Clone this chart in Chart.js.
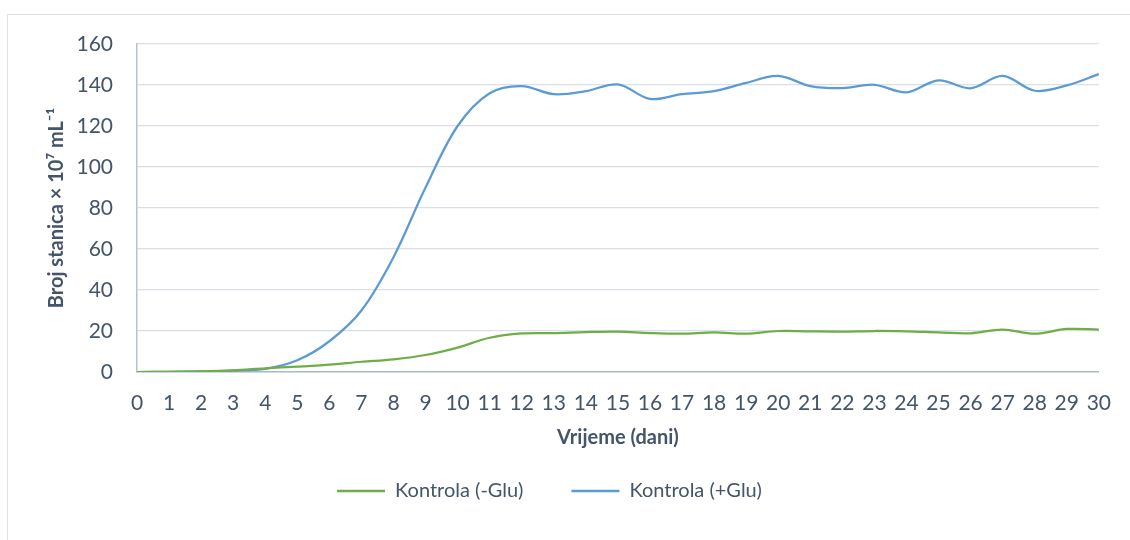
<!DOCTYPE html>
<html>
<head>
<meta charset="utf-8">
<script src="https://cdn.jsdelivr.net/npm/chart.js@4.4.1/dist/chart.umd.min.js"></script>
<style>
  html, body { margin: 0; padding: 0; background: #fff; }
  #wrap { position: relative; width: 1130px; height: 540px; overflow: hidden; }
  #frame { position: absolute; left: 7px; top: 14px; width: 1140px; height: 560px; border: 1.5px solid #dde2e9; box-sizing: border-box; }
  #c { position: absolute; left: 0; top: 0; }
</style>
</head>
<body>
<div id="wrap">
  <div id="frame"></div>
  <canvas id="c" width="1130" height="540"></canvas>
</div>
<script>
// days on the x axis
var days = ['0','1','2','3','4','5','6','7','8','9','10','11','12','13','14','15',
            '16','17','18','19','20','21','22','23','24','25','26','27','28','29','30'];

// cell count x 10^7 per mL
var kontrolaMinusGlu = [0, 0.1, 0.3, 0.8, 1.8, 2.6, 3.6, 5, 6.2, 8.3, 11.9, 16.7, 18.8, 19, 19.5, 19.7,
                        19, 18.7, 19.3, 18.7, 20, 19.8, 19.7, 20, 19.8, 19.3, 18.9, 20.7, 18.7, 21, 20.7];
var kontrolaPlusGlu  = [0, 0.1, 0.3, 0.7, 1.5, 5.7, 15, 30, 56, 90, 120, 136, 139.5, 135.5, 137, 140.3,
                        133.2, 135.5, 137, 141, 144.4, 139.5, 138.5, 140.1, 136.4, 142.3, 138.4, 144.4, 137.2, 139.8, 145.3];

var yTicks = { min: 0, max: 160, step: 20 };

var textColor = '#44546a';
var fontFamily = 'Lato, "Liberation Sans", sans-serif';

new Chart(document.getElementById('c'), {
  type: 'line',
  data: {
    labels: days,
    datasets: [
      {
        label: 'Kontrola (-Glu)',
        data: kontrolaMinusGlu,
        borderColor: '#70ad47',
        backgroundColor: '#70ad47',
        borderWidth: 2.25,
        pointRadius: 0,
        tension: 0.35,
        fill: false,
      },
      {
        label: 'Kontrola (+Glu)',
        data: kontrolaPlusGlu,
        borderColor: '#5b9bd5',
        backgroundColor: '#5b9bd5',
        borderWidth: 2.25,
        pointRadius: 0,
        tension: 0.35,
        fill: false,
      },
    ],
  },
  options: {
    responsive: false,
    animation: false,
    events: [],
    layout: { padding: { left: 0, right: 31, top: 44, bottom: 29 } },
    plugins: {
      tooltip: { enabled: false },
      legend: {
        position: 'bottom',
        labels: {
          boxWidth: 48,
          boxHeight: 2.5,
          padding: 48,
          color: textColor,
          font: { family: fontFamily, size: 20 },
          generateLabels: function (chart) {
            var items = Chart.defaults.plugins.legend.labels.generateLabels(chart);
            items.forEach(function (it) { it.lineWidth = 0; });
            return items;
          },
        },
      },
    },
    scales: {
      x: {
        type: 'category',
        offset: false,
        afterFit: function (s) { s.height = 61; },
        grid: { display: false, drawTicks: false },
        border: { display: true, color: '#adb9ca', width: 1.5 },
        ticks: {
          color: textColor,
          padding: 19,
          maxRotation: 0,
          autoSkip: false,
          font: { family: fontFamily, size: 21 },
        },
        title: {
          display: true,
          text: 'Vrijeme (dani)',
          color: textColor,
          padding: { top: 0, bottom: -17 },
          font: { family: fontFamily, size: 20, weight: 'bold' },
        },
      },
      y: {
        min: yTicks.min,
        max: yTicks.max,
        afterFit: function (s) { s.width = 137; },
        grid: { color: '#dadee6', lineWidth: 1.3, drawTicks: false },
        border: { display: true, color: '#b7c1d0', width: 1.5 },
        ticks: {
          stepSize: yTicks.step,
          color: textColor,
          padding: 24,
          font: { family: fontFamily, size: 21 },
        },
        title: {
          display: true,
          text: 'Broj stanica × 10⁷ mL⁻¹',
          color: textColor,
          padding: { top: 45, bottom: 0 },
          font: { family: fontFamily, size: 20, weight: 'bold' },
        },
      },
    },
  },
});
</script>
</body>
</html>
